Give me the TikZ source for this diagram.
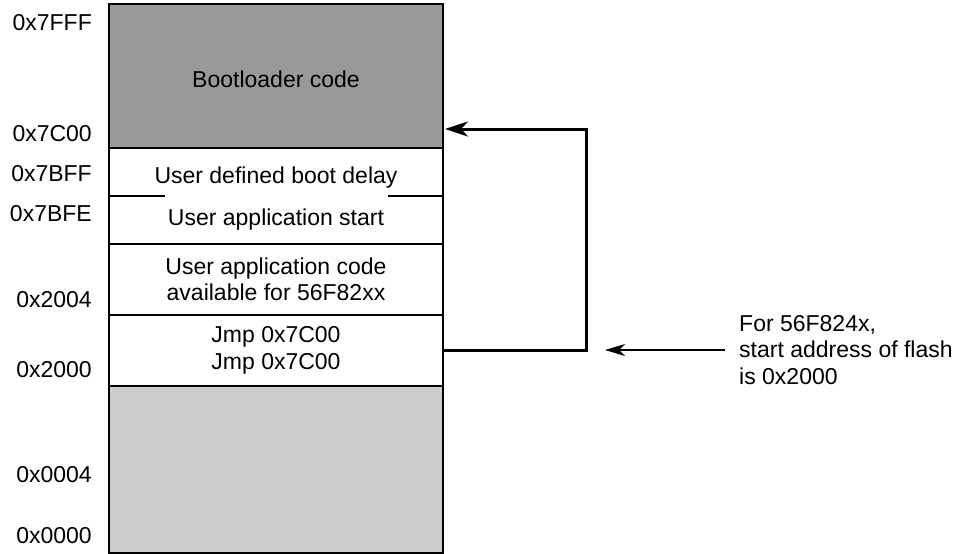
\documentclass[tikz,border=0pt]{standalone}
\usepackage{fontspec}
\setmainfont{Liberation Sans}
\usetikzlibrary{positioning,arrows.meta}
\definecolor{bootgray}{HTML}{999999}
\definecolor{lowgray}{HTML}{CCCCCC}
\tikzset{
  mem/.style={minimum width=334pt,inner sep=0pt,outer sep=0pt,align=center},
  lowtext/.style={text height=22.5pt,text depth=0pt},
  frame/.style={line width=2pt},
  addr/.style={anchor=east,inner sep=0pt},
  jumpline/.style={line width=3pt,-{Stealth[length=23pt,width=15pt,inset=7pt]}},
  notearrow/.style={line width=1.5pt,-{Stealth[length=20pt,width=12pt,inset=6pt]}}
}
\begin{document}
\begin{tikzpicture}[x=1pt,y=-1pt,font=\fontsize{23}{26.5}\selectfont]
    \useasboundingbox (0,0) rectangle (967,554);

    % memory blocks
    \node[mem,lowtext,fill=bootgray,minimum height=144pt] (boot) at (276,76) {Bootloader code};
    \node[mem,lowtext,minimum height=48pt,below=0pt of boot] (delay) {User defined boot delay};
    \node[mem,minimum height=48pt,below=0pt of delay] (start) {User application start};
    \node[mem,minimum height=71pt,below=0pt of start] (appcode) {User application code\\available for 56F82xx};
    \node[mem,minimum height=71pt,below=0pt of appcode] (jmp) {Jmp 0x7C00\\Jmp 0x7C00};
    \node[mem,fill=lowgray,minimum height=167pt,below=0pt of jmp] (low) {};

    \draw[frame] (boot.north west) rectangle (low.south east);
    \foreach \blk in {boot,start,appcode,jmp}
        \draw[frame] (\blk.south west) -- (\blk.south east);
    \draw[frame] (delay.south west) -- ++(56,0);
    \draw[frame] (delay.south east) -- ++(-55,0);

    % addresses
    \foreach \ya/\txt/\nm in {22.5/0x7FFF/a7fff, 134/0x7C00/a7c00, 174/0x7BFF/a7bff, 214/0x7BFE/a7bfe,
                              300/0x2004/a2004, 370/0x2000/a2000, 474.5/0x0004/a0004, 535.5/0x0000/a0000}
        \node[addr] (\nm) at (92,\ya) {\txt};

    % jump back to the bootloader
    \coordinate (corner) at (586,129);
    \coordinate (boottip) at (445,129);
    \draw[jumpline] (jmp.east) -| (corner) -- (boottip);

    % note
    \node[anchor=west,align=left,inner sep=0pt] (note) at (739,350) {For 56F824x,\\start address of flash\\is 0x2000};
    \coordinate (notetip) at (605,350);
    \draw[notearrow] ([xshift=-14pt]note.west) -- (notetip);
\end{tikzpicture}
\end{document}
